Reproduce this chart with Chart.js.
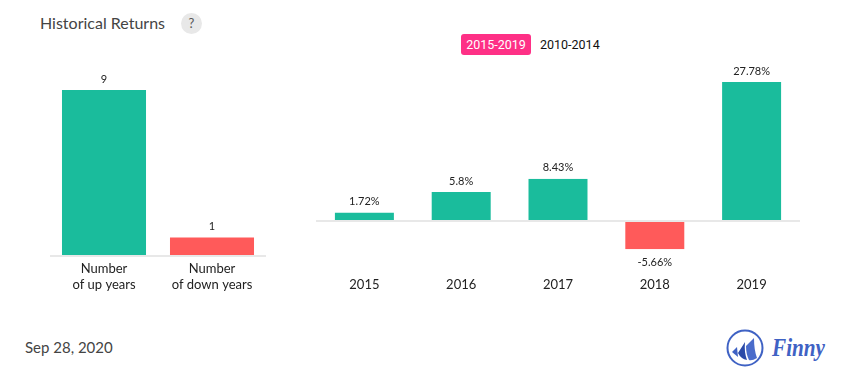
<!DOCTYPE html>
<html>
<head>
<meta charset="utf-8">
<script src="https://cdn.jsdelivr.net/npm/chart.js@4"></script>
<style>
  html, body { margin: 0; padding: 0; background: #fff; }
  body { position: relative; width: 855px; height: 382px; overflow: hidden; font-family: Lato, sans-serif; }
  .abs { position: absolute; white-space: nowrap; }
  #title { left: 40px; top: 13px; font-size: 16px; line-height: 20px; color: #444; }
  #help { left: 181px; top: 13px; width: 21px; height: 21px; border-radius: 50%; background: #e8e8e8; color: #555; font-size: 13px; line-height: 21px; text-align: center; }
  .range { top: 34px; height: 21px; line-height: 21px; font-family: Roboto, sans-serif; font-size: 12.5px; }
  #rangeOn { left: 461px; width: 70px; text-align: center; background: #fe3086; color: #fff; border-radius: 3px; }
  #rangeOff { left: 540px; color: #111; }
  #date { left: 25px; top: 337px; font-size: 15px; line-height: 20px; color: #444; }
  #logo { left: 725px; top: 328px; }
  canvas { position: absolute; }
  #countWrap { position: absolute; left: 50px; top: 64px; width: 216px; height: 237px; }
  #yearWrap { position: absolute; left: 316px; top: 56px; width: 484px; height: 240px; }
</style>
</head>
<body>
<div class="abs" id="title">Historical Returns</div>
<div class="abs" id="help">?</div>
<div class="abs range" id="rangeOn">2015-2019</div>
<div class="abs range" id="rangeOff">2010-2014</div>
<div id="countWrap"><canvas id="countChart"></canvas></div>
<div id="yearWrap"><canvas id="yearChart"></canvas></div>
<div class="abs" id="date">Sep 28, 2020</div>
<svg class="abs" id="logo" width="105" height="42" viewBox="0 0 105 42">
  <circle cx="20" cy="20" r="17.5" fill="none" stroke="#3f62c4" stroke-width="2"/>
  <path d="M7 24 L12 19 L13 29 Z" fill="#3f62c4"/>
  <path d="M13 25 L20 14 Q19 24 22 32 Q16 31 13 25 Z" fill="#2b4aa8"/>
  <path d="M21 18 L29 10 Q29 22 32 30 Q27 33 24 32 Q21 26 21 18 Z" fill="#4a6ccb"/>
  <text x="47" y="28" textLength="53" lengthAdjust="spacingAndGlyphs" font-family="'Liberation Serif', serif" font-style="italic" font-weight="bold" font-size="25" fill="#3f62c4">Finny</text>
</svg>
<script>
const countLabels = [['Number', 'of up years'], ['Number', 'of down years']];
const countValues = [9, 1];
const years = ['2015', '2016', '2017', '2018', '2019'];
const returns = [1.72, 5.8, 8.43, -5.66, 27.78];

const UP = '#1abc9c';
const DOWN = '#ff5a5a';
const AXIS = '#e8e8e8';

// chartjs-datalabels isn't available here so draw bar annotations by hand
const valueLabels = {
    id: 'valueLabels',
    afterDatasetsDraw(chart, args, opts) {
        const ctx = chart.ctx;
        const meta = chart.getDatasetMeta(0);
        const data = chart.data.datasets[0].data;
        ctx.save();
        ctx.font = '11px Lato';
        ctx.fillStyle = '#222';
        ctx.textAlign = 'center';
        ctx.textBaseline = 'middle';
        meta.data.forEach((bar, i) => {
            const y = data[i] < 0 ? bar.y + 13 : bar.y - 11;
            ctx.fillText(data[i] + opts.suffix, bar.x, y);
        });
        ctx.restore();
    }
};

function barOptions(yMin, yMax, xHeight, suffix, tickPad) {
    return {
        responsive: true,
        maintainAspectRatio: false,
        animation: false,
        layout: { padding: 0 },
        plugins: {
            legend: { display: false },
            tooltip: { enabled: false },
            valueLabels: { suffix: suffix }
        },
        scales: {
            x: {
                grid: { display: false },
                border: { display: false },
                ticks: { color: '#222', font: { family: 'Lato', size: 13, lineHeight: 1.23 }, padding: tickPad, maxRotation: 0, autoSkip: false },
                afterFit(axis) { axis.height = xHeight; }
            },
            y: {
                min: yMin,
                max: yMax,
                afterFit(axis) { axis.width = 0; },
                border: { display: false },
                ticks: { display: false, stepSize: 10 },
                grid: {
                    drawTicks: false,
                    lineWidth: 2,
                    color: (context) => context.tick.value === 0 ? AXIS : 'transparent'
                }
            }
        }
    };
}

new Chart(document.getElementById('countChart'), {
    type: 'bar',
    data: {
        labels: countLabels,
        datasets: [{
            data: countValues,
            backgroundColor: countValues.map((v, i) => i === 0 ? UP : DOWN),
            barPercentage: 0.778,
            categoryPercentage: 1.0
        }]
    },
    options: barOptions(0, 10.41, 45, '', -3),
    plugins: [valueLabels]
});

new Chart(document.getElementById('yearChart'), {
    type: 'bar',
    data: {
        labels: years,
        datasets: [{
            data: returns,
            backgroundColor: returns.map(v => v < 0 ? DOWN : UP),
            borderColor: '#fff',
            borderWidth: { left: 1, right: 1, top: 0, bottom: 0 },
            barPercentage: 0.63,
            categoryPercentage: 1.0
        }]
    },
    options: barOptions(-10, 33, 25, '%', -2),
    plugins: [valueLabels]
});
</script>
</body>
</html>
